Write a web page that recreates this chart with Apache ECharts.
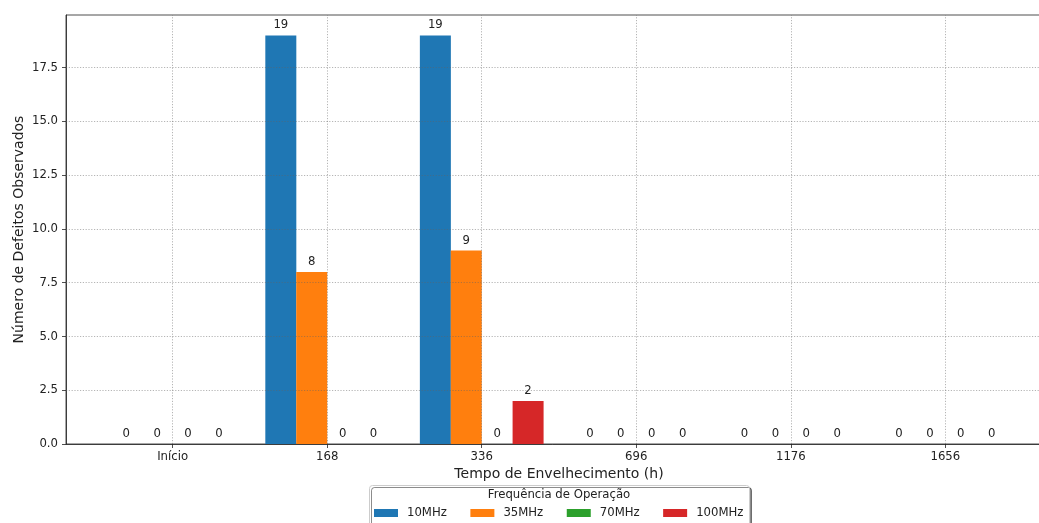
<!DOCTYPE html>
<html><head><meta charset="utf-8">
<script src="https://cdn.jsdelivr.net/npm/echarts@6/dist/echarts.min.js"></script>
<style>html,body{margin:0;padding:0;background:#fff}#c{width:1039px;height:523px}</style>
</head><body><div id="c"></div>
<script>
const categories = ['Início', '168', '336', '696', '1176', '1656'];
const seriesNames = ['10MHz', '35MHz', '70MHz', '100MHz'];
const s10 = [0, 19, 19, 0, 0, 0];
const s35 = [0, 8, 9, 0, 0, 0];
const s70 = [0, 0, 0, 0, 0, 0];
const s100 = [0, 0, 2, 0, 0, 0];
const yTicks = [0, 2.5, 5, 7.5, 10, 12.5, 15, 17.5];
const colors = ['#1f77b4', '#ff7f0e', '#2ca02c', '#d62728'];

const FONT = 'DejaVu Sans';
const FS = 11.7;
const offsets = [-0.3, -0.1, 0.1, 0.3];
const allValues = [s10, s35, s70, s100];

const chart = echarts.init(document.getElementById('c'));
const gridStyle = {color: 'rgba(100,100,100,0.6)', width: 0.8, type: [1.2, 1.6]};

const series = allValues.map((vals, j) => ({
  name: seriesNames[j],
  type: 'bar',
  barWidth: 31,
  barGap: '-100%',
  itemStyle: {color: colors[j]},
  data: vals.map((v, i) => [i + offsets[j], v]),
  label: {show: true, position: 'top', distance: 4, color: '#222', fontFamily: FONT, fontSize: FS,
          formatter: p => String(p.value[1])},
  z: 2
}));
series.push({
  type: 'line', data: [], silent: true, z: 5,
  markLine: {
    silent: true, symbol: ['none', 'none'], label: {show: false},
    lineStyle: gridStyle, animation: false,
    data: categories.map((c, i) => ({xAxis: i})).concat(yTicks.slice(1).map(v => ({yAxis: v})))
  }
});

chart.setOption({
  animation: false,
  textStyle: {fontFamily: FONT},
  grid: {left: 66, top: 15, bottom: 79, width: 986, show: true, borderColor: '#222', borderWidth: 0.8,
         containLabel: false, outerBoundsMode: 'none'},
  xAxis: {
    type: 'value', min: -0.69, max: 5.69,
    name: 'Tempo de Envelhecimento (h)', nameLocation: 'middle', nameGap: 23, nameMoveOverlap: false,
    nameTextStyle: {fontSize: 14, color: '#222', fontFamily: FONT},
    axisLine: {show: true, onZero: false, lineStyle: {color: '#222', width: 0.8}},
    axisTick: {show: true, length: 4, lineStyle: {color: '#222', width: 0.8}, customValues: [0,1,2,3,4,5]},
    axisLabel: {customValues: [0,1,2,3,4,5], formatter: v => categories[Math.round(v)], color: '#222', fontSize: FS, margin: 7, fontFamily: FONT},
    splitLine: {show: false}
  },
  yAxis: {
    type: 'value', min: 0, max: 19.95, interval: 2.5,
    name: 'Número de Defeitos Observados', nameLocation: 'middle', nameGap: 40, nameMoveOverlap: false,
    nameTextStyle: {fontSize: 14, color: '#222', fontFamily: FONT},
    axisLine: {show: true, onZero: false, lineStyle: {color: '#222', width: 0.8}},
    axisTick: {show: true, length: 4, lineStyle: {color: '#222', width: 0.8}},
    axisLabel: {formatter: v => v.toFixed(1), color: '#222', fontSize: FS, margin: 8, showMaxLabel: false, fontFamily: FONT},
    splitLine: {show: false}
  },
  legend: {
    left: 374, top: 507, padding: 0, itemWidth: 24, itemHeight: 8, itemGap: 23.5,
    icon: 'rect',
    textStyle: {fontSize: FS, color: '#222', fontFamily: FONT, padding: [0, 0, 0, 4]},
    data: seriesNames
  },
  graphic: [
    {type: 'rect', left: 369, top: 485, z: -1,
     shape: {width: 380, height: 60, r: 3},
     style: {fill: '#fff', stroke: '#ccc', lineWidth: 1, shadowColor: 'rgba(0,0,0,0.45)', shadowOffsetX: 2, shadowOffsetY: 2, shadowBlur: 0}},
    {type: 'text', x: 559, y: 495, z: 1,
     style: {text: 'Frequência de Operação', fontSize: FS, fill: '#222', fontFamily: FONT, align: 'center', verticalAlign: 'middle'}}
  ],
  series: series
});
</script></body></html>
